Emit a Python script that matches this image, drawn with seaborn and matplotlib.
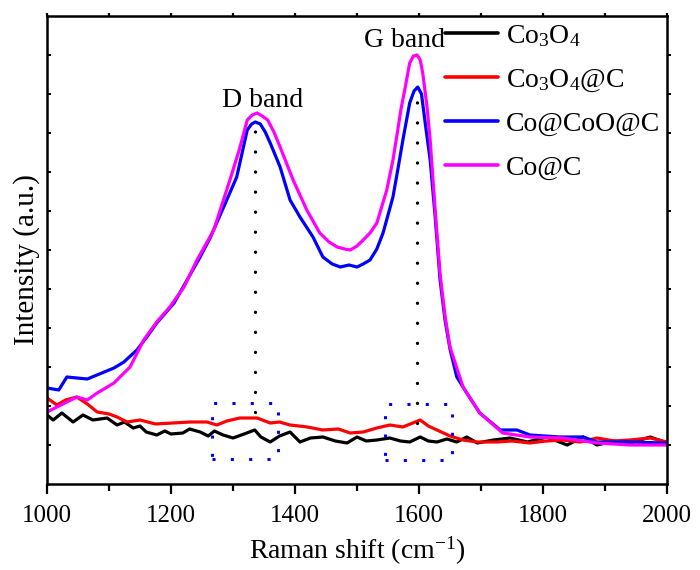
import numpy as np
import pandas as pd
import matplotlib
matplotlib.use("Agg")
import matplotlib.pyplot as plt
from matplotlib.patches import Rectangle
from matplotlib.lines import TICKRIGHT
import seaborn as sns

# ---------------- data ----------------
black_x = [1000, 1010, 1024, 1042, 1058, 1074, 1097, 1113, 1125, 1139, 1150, 1160, 1177, 1190,
           1200, 1219, 1230, 1247, 1260, 1270, 1284, 1300, 1318, 1335, 1345, 1360, 1375, 1392,
           1408, 1425, 1445, 1465, 1484, 1500, 1515, 1532, 1553, 1570, 1585, 1602, 1615, 1629,
           1645, 1661, 1677, 1694, 1720, 1747, 1775, 1806, 1839, 1865, 1887, 1915, 1940, 1973,
           2000]
black_y = [69, 64, 71, 62, 69, 64, 66, 59, 62, 56, 58, 52, 49, 53,
           50, 51, 55, 52, 48, 53, 49, 46, 50, 54, 47, 42, 48, 52,
           42, 46, 47, 43, 41, 47, 43, 44, 46, 43, 42, 47, 43, 42,
           45, 42, 47, 41, 44, 46, 42, 47, 39, 47, 39, 43, 41, 47,
           41]

red_x = [1000, 1016, 1030, 1048, 1065, 1081, 1100, 1113, 1129, 1150, 1175, 1203, 1231, 1258,
         1274, 1290, 1311, 1339, 1360, 1375, 1392, 1420, 1445, 1470, 1489, 1510, 1532, 1553,
         1574, 1590, 1602, 1615, 1629, 1650, 1671, 1694, 1726, 1750, 1779, 1805, 1832, 1860,
         1887, 1915, 1940, 1973, 2000]
red_y = [86, 79, 84, 87, 80, 72, 70, 67, 62, 64, 60, 61, 62, 62,
         59, 63, 66, 66, 61, 62, 59, 57, 54, 55, 51, 52, 56, 59,
         57, 61, 64, 58, 54, 48, 44, 42, 42, 43, 41, 43, 44, 42,
         46, 43, 44, 46, 42]

blue_x = [1000, 1019, 1032, 1065, 1108, 1124, 1145, 1161, 1177, 1205, 1226, 1247, 1263, 1285,
          1306, 1323, 1330, 1336, 1344, 1352, 1360, 1376, 1392, 1408, 1429, 1445, 1460, 1473,
          1487, 1500, 1510, 1521, 1532, 1542, 1558, 1566, 1574, 1585, 1592, 1598, 1604, 1610,
          1618, 1626, 1634, 1642, 1650, 1661, 1677, 1698, 1731, 1758, 1779, 1827, 1865, 1887,
          1940, 1994, 2000]
blue_y = [96, 94, 107, 105, 116, 122, 134, 147, 161, 181, 204, 227, 246, 277,
          307, 354, 360, 362, 360, 352, 341, 317, 284, 267, 247, 227, 220, 217,
          219, 217, 220, 224, 235, 251, 287, 315, 344, 381, 393, 397, 390, 361,
          324, 268, 204, 164, 135, 107, 91, 71, 54, 54, 49, 47, 47, 42,
          42, 41, 41]

magenta_x = [1000, 1048, 1065, 1081, 1108, 1134, 1156, 1177, 1198, 1221, 1242, 1269, 1295, 1310,
             1323, 1331, 1339, 1347, 1356, 1366, 1376, 1397, 1419, 1440, 1455, 1468, 1480, 1489,
             1500, 1510, 1521, 1532, 1548, 1558, 1565, 1571, 1577, 1585, 1591, 1597, 1602, 1606,
             1613, 1618, 1626, 1634, 1642, 1650, 1671, 1698, 1735, 1779, 1832, 1887, 1940, 2000]
magenta_y = [72, 87, 84, 91, 101, 117, 144, 162, 177, 197, 224, 254, 304, 334,
             364, 369, 371, 368, 364, 352, 337, 304, 274, 251, 242, 237, 235, 234,
             238, 244, 251, 261, 294, 324, 351, 375, 394, 421, 428, 429, 424, 411,
             377, 344, 275, 210, 168, 137, 97, 71, 51, 47, 46, 41, 39, 39]

series_labels = ["Co$_3$O$_4$", "Co$_3$O$_4$@C", "Co@CoO@C", "Co@C"]
series_colors = ["#000000", "#ff0000", "#0000ff", "#ff00ff"]

# annotation data
d_band_x, d_band_y = 1335, (72, 362)
g_band_x, g_band_y = 1597, (61, 397)
box1_x, box1_y = (1266, 1373), (25, 81)
box2_x, box2_y = (1545, 1653), (24, 80)
d_label_pos = (1348, 377)
g_label_pos = (1576, 437)

x_ticks = [1000, 1200, 1400, 1600, 1800, 2000]

# ---------------- build long table ----------------
frames = []
for lab, xs, ys in zip(series_labels,
                       [black_x, red_x, blue_x, magenta_x],
                       [black_y, red_y, blue_y, magenta_y]):
    frames.append(pd.DataFrame({"shift": xs, "intensity": ys, "sample": lab}))
df = pd.concat(frames, ignore_index=True)

# ---------------- style ----------------
sns.set_theme(style="ticks")
plt.rcParams.update({
    "font.family": ["Liberation Serif", "DejaVu Serif"],
    "mathtext.fontset": "custom",
    "mathtext.rm": "Liberation Serif",
    "mathtext.it": "Liberation Serif:italic",
    "mathtext.bf": "Liberation Serif:bold",
    "axes.linewidth": 1.8,
    "axes.edgecolor": "black",
    "text.color": "black",
    "axes.labelcolor": "black",
    "xtick.color": "black",
    "ytick.color": "black",
})

fig = plt.figure(figsize=(7, 5.7), dpi=100)
ax = fig.add_axes([47 / 700, 86 / 570, 620 / 700, 468 / 570])

sns.lineplot(data=df, x="shift", y="intensity", hue="sample",
             palette=dict(zip(series_labels, series_colors)),
             hue_order=series_labels, sort=False, estimator=None,
             linewidth=2.3, ax=ax)

# dotted guide lines
for bx, (y0, y1) in [(d_band_x, d_band_y), (g_band_x, g_band_y)]:
    ax.plot([bx, bx], [y0, y1], color="black", lw=2.4,
            linestyle=(0, (0.01, 6.0)), dash_capstyle="round", zorder=5)

# blue dotted boxes
for (x0, x1), (y0, y1) in [(box1_x, box1_y), (box2_x, box2_y)]:
    ax.add_patch(Rectangle((x0, y0), x1 - x0, y1 - y0, fill=False,
                           edgecolor="#0000ff", lw=2.2, linestyle=(0, (1, 5)),
                           zorder=6))

ax.text(*d_label_pos, "D band", fontsize=20, ha="center", va="baseline")
ax.text(*g_label_pos, "G band", fontsize=20, ha="center", va="baseline")

# axes
ax.set_xlim(1000, 2000)
ax.set_ylim(0, 468)
ax.set_xticks(x_ticks)
ax.set_xticks(np.arange(1100, 2000, 200), minor=True)
ax.set_yticks(np.arange(39, 468, 39))
ax.set_yticklabels([])
ax.tick_params(axis="x", which="major", direction="out", length=7, width=1.6,
               labelsize=18, pad=8, top=True)
ax.tick_params(axis="x", which="minor", direction="out", length=5, width=1.6, top=True)
ax.tick_params(axis="y", which="major", direction="in", length=3, width=1.4,
               left=True, right=True)
for t in ax.xaxis.get_major_ticks() + ax.xaxis.get_minor_ticks():
    t.tick2line.set_markersize(2.5)
for t in ax.yaxis.get_major_ticks():
    t.tick2line.set_marker(TICKRIGHT)
for sp in ax.spines.values():
    sp.set_visible(True)
    sp.set_linewidth(1.8)
    sp.set_color("black")

ax.set_xlabel("Raman shift (cm$^{-1}$)", fontsize=20, labelpad=6)
ax.set_ylabel("Intensity (a.u.)", fontsize=21)
ax.yaxis.set_label_coords(-0.012, 0.479)

# legend
old = ax.get_legend()
handles = list(old.legend_handles)
texts = [t.get_text() for t in old.get_texts()]
old.remove()
for h in handles:
    h.set_linewidth(2.6)
leg = ax.legend(handles, texts, loc="upper left", bbox_to_anchor=(0.642, 0.985),
                frameon=False, fontsize=20, handlelength=1.9, handletextpad=0.3,
                labelspacing=0.65, borderpad=0.0, borderaxespad=0.0)

fig.savefig("out.png", dpi=100)
